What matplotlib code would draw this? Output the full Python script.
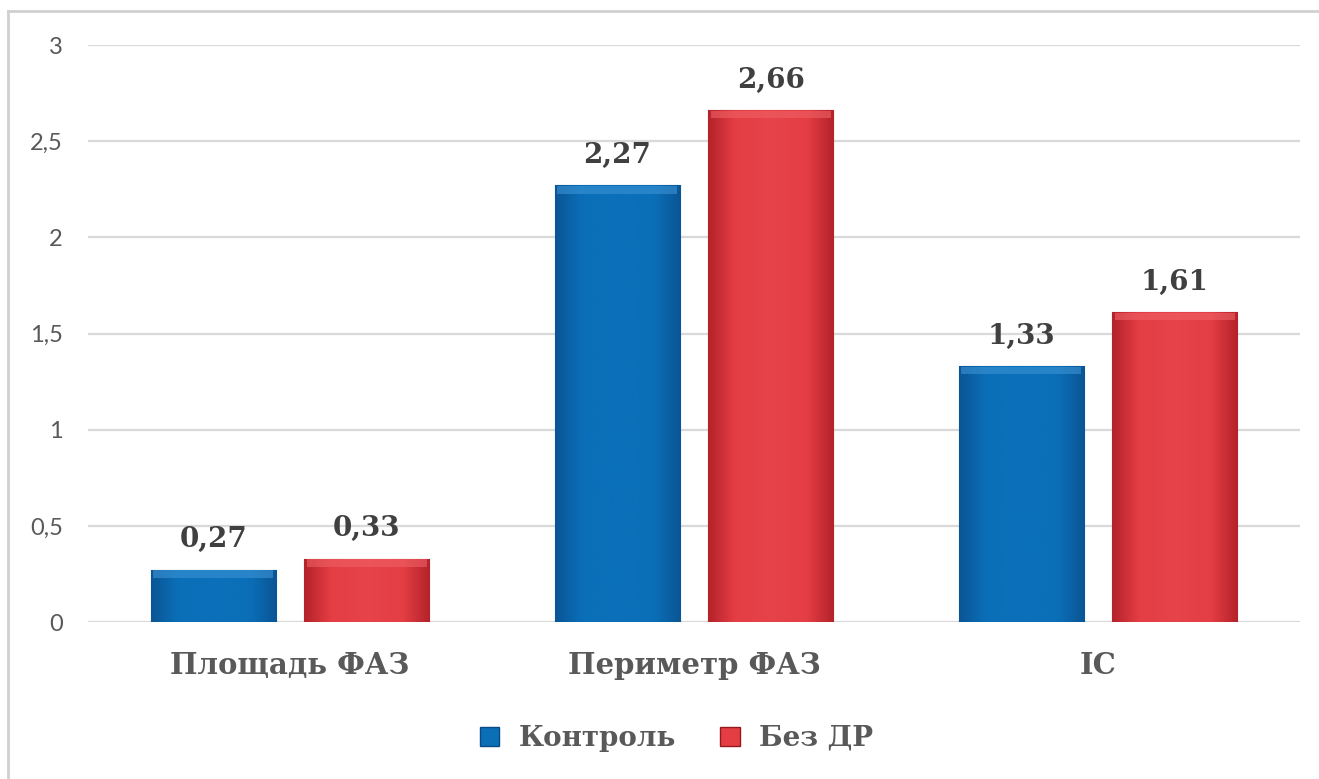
import numpy as np
import matplotlib.pyplot as plt
from matplotlib.colors import LinearSegmentedColormap
from matplotlib.lines import Line2D
from matplotlib.patches import Patch

# данные
categories = ['Площадь ФАЗ', 'Периметр ФАЗ', 'IC']
control = [0.27, 2.27, 1.33]
no_dr = [0.33, 2.66, 1.61]
series_names = ['Контроль', 'Без ДР']
yticks = [0, 0.5, 1, 1.5, 2, 2.5, 3]

text_color = '#595959'
serif = ['DejaVu Serif']

fig = plt.figure(figsize=(13.19, 7.79), dpi=100)
ax = fig.add_axes([0.0667, 0.2015, 0.9189, 0.7407])

x = np.arange(len(categories))
w = 0.31
off = 0.19

# градиенты для "объёмных" столбцов
blue_cmap = LinearSegmentedColormap.from_list('b', ['#0a5596', '#0b6fb8', '#0b70ba', '#0b6fb8', '#0a5596'])
red_cmap = LinearSegmentedColormap.from_list('r', ['#b5232a', '#e53d44', '#e6434a', '#e53d44', '#b5232a'])
grad = np.interp(np.linspace(0, 1, 60), np.linspace(0, 1, 5), [0, 0.3, 0.5, 0.7, 1.0])[None, :]

bars1 = ax.bar(x - off, control, w, color='#0b6fb8', edgecolor='#0a4a82', linewidth=0.8, zorder=2)
bars2 = ax.bar(x + off, no_dr, w, color='#e53d44', edgecolor='#931b20', linewidth=0.8, zorder=2)

for bars, cmap, top in [(bars1, blue_cmap, '#3d93d4'), (bars2, red_cmap, '#ee6166')]:
    for b in bars:
        x0, y0, bw, bh = b.get_x(), b.get_y(), b.get_width(), b.get_height()
        im = ax.imshow(grad, cmap=cmap, aspect='auto', extent=[x0, x0 + bw, y0, y0 + bh],
                       zorder=2.5, interpolation='bicubic')
        im.set_clip_path(b)
        # светлая кромка сверху
        ax.bar(x0 + bw / 2, 0.04, bw * 0.96, bottom=y0 + bh - 0.042, color=top,
               alpha=0.6, linewidth=0, zorder=2.6)

for bars, vals in [(bars1, control), (bars2, no_dr)]:
    for b, v in zip(bars, vals):
        ax.annotate(f'{v:.2f}'.replace('.', ','), (b.get_x() + b.get_width() / 2, v),
                    xytext=(0, 12), textcoords='offset points', ha='center', va='bottom',
                    fontsize=20, fontweight='bold', color='#404040', family=serif, zorder=3)

ax.set_xlim(-0.5, 2.5)
ax.set_ylim(0, 3)
ax.set_yticks(yticks)
ax.set_yticklabels([f'{t:g}'.replace('.', ',') for t in yticks], fontsize=17,
                   color=text_color, family=['Lato', 'DejaVu Sans'])
ax.set_xticks(x)
ax.set_xticklabels(categories, fontsize=21, fontweight='bold', color=text_color, family=serif)
ax.tick_params(axis='y', length=0, pad=18)
ax.tick_params(axis='x', length=0, pad=21)
ax.grid(axis='y', color='#d9d9d9', linewidth=1.6, zorder=0)
ax.set_axisbelow(True)
for s in ax.spines.values():
    s.set_visible(False)

handles = [Patch(facecolor='#0b6fb8', edgecolor='#0a4a82'), Patch(facecolor='#e53d44', edgecolor='#931b20')]
fig.legend(handles, series_names, loc='center', bbox_to_anchor=(0.513, 0.052), ncol=2, frameon=False,
           prop={'family': serif, 'size': 20, 'weight': 'bold'}, labelcolor=text_color,
           handlelength=0.7, handleheight=0.7, columnspacing=1.6, handletextpad=0.7)

# рамка
fig.add_artist(Line2D([8 / 1319, 1.0], [1 - 11 / 779] * 2, color='#d0d0d0', linewidth=2))
fig.add_artist(Line2D([8 / 1319] * 2, [0, 1 - 11 / 779], color='#d0d0d0', linewidth=2))

plt.savefig('out.png', dpi=100)
